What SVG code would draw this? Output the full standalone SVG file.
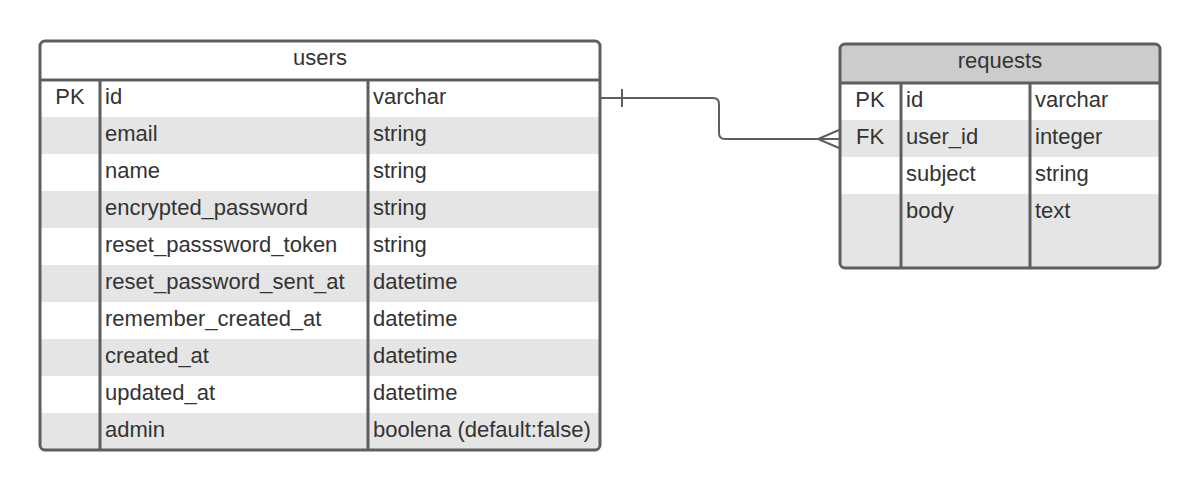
<svg xmlns="http://www.w3.org/2000/svg" width="1200" height="490" viewBox="0 0 1200 490">
<style>
text{font-family:"Liberation Sans",Arial,sans-serif;font-size:22px;fill:#333333}
.c{text-anchor:middle}
.alt{fill:#e5e5e5}
.frame{fill:none;stroke:#5e5e5e;stroke-width:3}
.div{stroke:#5e5e5e;stroke-width:3}
.conn{fill:none;stroke:#5e5e5e;stroke-width:2}
</style>
<rect width="1200" height="490" fill="#ffffff"/>
<g id="users">
<rect x="40" y="41" width="560" height="409" rx="5" fill="#ffffff"/>
<rect class="alt" x="41" y="117" width="558" height="37"/>
<rect class="alt" x="41" y="191" width="558" height="37"/>
<rect class="alt" x="41" y="265" width="558" height="37"/>
<rect class="alt" x="41" y="339" width="558" height="37"/>
<path class="alt" d="M41 413H599V445Q599 449 595 449H45Q41 449 41 445Z"/>
<line class="div" x1="40" y1="80" x2="600" y2="80"/>
<line class="div" x1="100" y1="80" x2="100" y2="450"/>
<line class="div" x1="368" y1="80" x2="368" y2="450"/>
<rect class="frame" x="40" y="41" width="560" height="409" rx="5"/>
<text class="c" x="320" y="65">users</text>
<text class="c" x="70" y="104">PK</text>
<text x="105" y="104">id</text><text x="373" y="104">varchar</text>
<text x="105" y="141">email</text><text x="373" y="141">string</text>
<text x="105" y="178">name</text><text x="373" y="178">string</text>
<text x="105" y="215">encrypted_password</text><text x="373" y="215">string</text>
<text x="105" y="252">reset_passsword_token</text><text x="373" y="252">string</text>
<text x="105" y="289">reset_password_sent_at</text><text x="373" y="289">datetime</text>
<text x="105" y="326">remember_created_at</text><text x="373" y="326">datetime</text>
<text x="105" y="363">created_at</text><text x="373" y="363">datetime</text>
<text x="105" y="400">updated_at</text><text x="373" y="400">datetime</text>
<text x="105" y="437">admin</text><text x="373" y="437">boolena (default:false)</text>
</g>
<g id="requests">
<rect x="840" y="44" width="320" height="224" rx="5" fill="#ffffff"/>
<path d="M841 83V49Q841 45 845 45H1155Q1159 45 1159 49V83Z" fill="#cccccc"/>
<rect class="alt" x="841" y="120" width="318" height="37"/>
<path class="alt" d="M841 194H1159V263Q1159 267 1155 267H845Q841 267 841 263Z"/>
<line class="div" x1="840" y1="83" x2="1160" y2="83"/>
<line class="div" x1="901" y1="83" x2="901" y2="268"/>
<line class="div" x1="1030" y1="83" x2="1030" y2="268"/>
<rect class="frame" x="840" y="44" width="320" height="224" rx="5"/>
<text class="c" x="1000" y="68">requests</text>
<text class="c" x="870" y="107">PK</text>
<text x="906" y="107">id</text><text x="1035" y="107">varchar</text>
<text class="c" x="870" y="144">FK</text>
<text x="906" y="144">user_id</text><text x="1035" y="144">integer</text>
<text x="906" y="181">subject</text><text x="1035" y="181">string</text>
<text x="906" y="218">body</text><text x="1035" y="218">text</text>
</g>
<g id="connectors">
<path class="conn" d="M601 98H713Q719 98 719 104V133Q719 139 725 139H839"/>
<line class="conn" x1="622" y1="89" x2="622" y2="107"/>
<path class="conn" d="M839 130L818 139L839 148"/>
</g>
</svg>
